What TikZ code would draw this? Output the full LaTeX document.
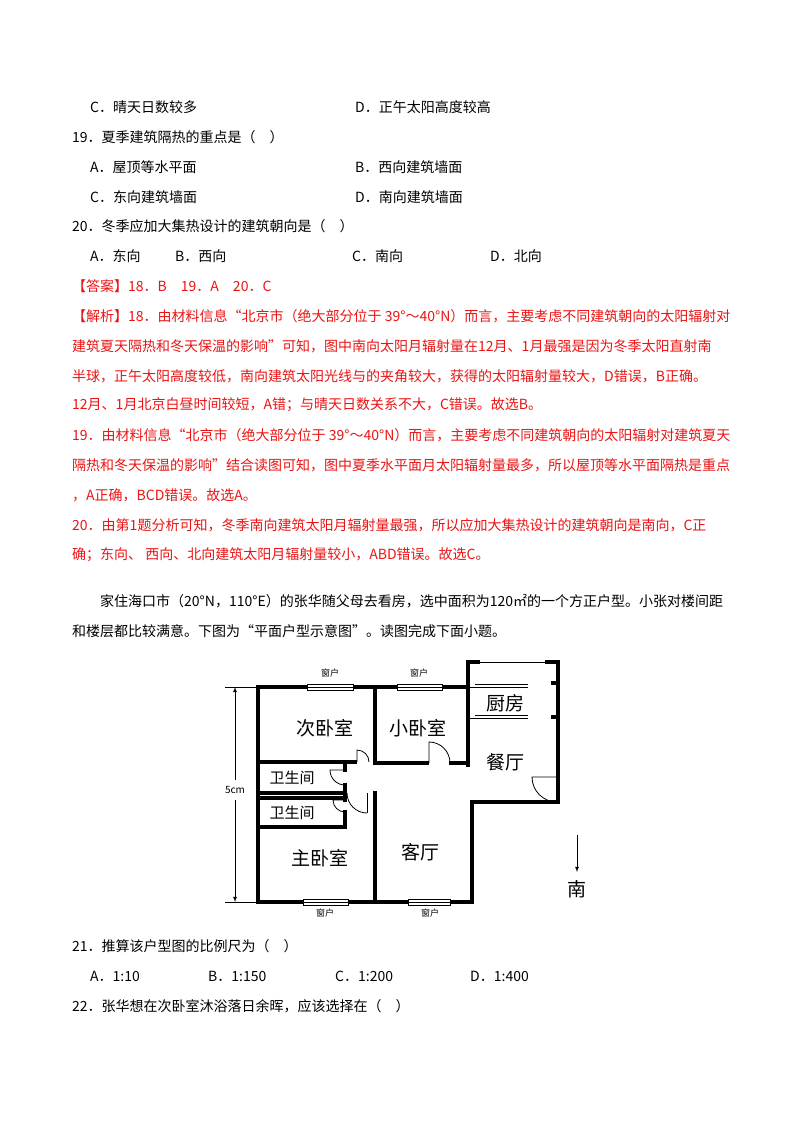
\documentclass[tikz,border=0pt]{standalone}
\usepackage{fontspec}
\setmainfont{Noto Sans CJK SC}
\definecolor{ans}{RGB}{235,20,20}
\begin{document}
\begin{tikzpicture}[x=1pt,y=-1pt,
  t/.style={anchor=west,inner sep=0,font=\fontsize{14}{15}\selectfont},
  r/.style={t,text=ans},
  wall/.style={line width=3.2pt,line cap=rect},
  thin/.style={line width=0.8pt},
  room/.style={font=\fontsize{19}{20}\selectfont,inner sep=0},
  win/.style={font=\fontsize{9}{10}\selectfont,inner sep=0}]
\useasboundingbox[fill=white] (0,0) rectangle (800,1132);
\node[t] (l1a) at (90,107) {C．晴天日数较多};
\node[t] (l1b) at (355,107) {D．正午太阳高度较高};
\node[t] (l2) at (72,137) {19．夏季建筑隔热的重点是（\quad）};
\node[t] (l3a) at (90,167) {A．屋顶等水平面};
\node[t] (l3b) at (355,167) {B．西向建筑墙面};
\node[t] (l4a) at (90,197) {C．东向建筑墙面};
\node[t] (l4b) at (355,197) {D．南向建筑墙面};
\node[t] (l5) at (72,226) {20．冬季应加大集热设计的建筑朝向是（\quad）};
\node[t] (l6a) at (90,256) {A．东向};
\node[t] (l6b) at (175,256) {B．西向};
\node[t] (l6c) at (352,256) {C．南向};
\node[t] (l6d) at (490,256) {D．北向};
\node[r] (a0) at (72,286) {【答案】18．B\quad 19．A\quad 20．C};
\node[r] (a1) at (72,316) {【解析】18．由材料信息“北京市（绝大部分位于 39°～40°N）而言，主要考虑不同建筑朝向的太阳辐射对};
\node[r] (a2) at (72,346) {建筑夏天隔热和冬天保温的影响”可知，图中南向太阳月辐射量在12月、1月最强是因为冬季太阳直射南};
\node[r] (a3) at (72,376) {半球，正午太阳高度较低，南向建筑太阳光线与的夹角较大，获得的太阳辐射量较大，D错误，B正确。};
\node[r] (a4) at (72,405) {12月、1月北京白昼时间较短，A错；与晴天日数关系不大，C错误。故选B。};
\node[r] (a5) at (72,435) {19．由材料信息“北京市（绝大部分位于 39°～40°N）而言，主要考虑不同建筑朝向的太阳辐射对建筑夏天};
\node[r] (a6) at (72,465) {隔热和冬天保温的影响”结合读图可知，图中夏季水平面月太阳辐射量最多，所以屋顶等水平面隔热是重点};
\node[r] (a7) at (72,495) {，A正确，BCD错误。故选A。};
\node[r] (a8) at (72,525) {20．由第1题分析可知，冬季南向建筑太阳月辐射量最强，所以应加大集热设计的建筑朝向是南向，C正};
\node[r] (a9) at (72,555) {确；东向、\ 西向、北向建筑太阳月辐射量较小，ABD错误。故选C。};
\node[t] (p1) at (100,601) {家住海口市（20°N，110°E）的张华随父母去看房，选中面积为120㎡的一个方正户型。小张对楼间距};
\node[t] (p2) at (72,631) {和楼层都比较满意。下图为“平面户型示意图”。读图完成下面小题。};
\draw[wall] (258,687) -- (468,687);
\draw[wall] (258,687) -- (258,902) -- (472,902) -- (472,802) -- (558,802) -- (558,662) -- (468,662) -- (468,765);
\draw[wall] (375,687) -- (375,763);
\draw[wall] (258,762) -- (355,762);
\draw[wall] (375,763) -- (427,763);
\draw[wall] (451,763) -- (468,763);
\draw[wall] (258,793) -- (345,793);
\draw[wall] (258,798) -- (345,798);
\draw[wall] (258,827) -- (345,827);
\draw[wall] (345,762) -- (345,770);
\draw[wall] (345,785) -- (345,800);
\draw[wall] (345,812) -- (345,827);
\draw[wall] (375,793) -- (375,902);
\foreach \a/\b in {307/353,397/442} {
  \fill[white] (\a,684) rectangle (\b,690);
  \draw[thin] (\a,684) rectangle (\b,690); \draw[thin] (\a,687)--(\b,687);}
\foreach \a/\b in {303/348,408/450} {
  \fill[white] (\a,899) rectangle (\b,905);
  \draw[thin] (\a,899) rectangle (\b,905); \draw[thin] (\a,902)--(\b,902);}
\node[win] (w1) at (330,673) {窗户};
\node[win] (w2) at (419,673) {窗户};
\node[win] (w3) at (325,913) {窗户};
\node[win] (w4) at (430,913) {窗户};
\fill[white] (480,659) rectangle (545,665);
\draw[thin] (480,662)--(545,662);
\draw[thin] (468,687)--(528,687); \draw[thin] (475,684)--(528,684);
\draw[thin] (468,718)--(528,718); \draw[thin] (475,715)--(528,715);
\draw[wall] (553,683)--(558,683); \draw[wall] (553,717)--(558,717);
\draw[thin] (357,762) -- (357,750) arc (-90:0:12);
\draw[thin] (429,763) -- (429,742) arc (-90:0:21);
\draw[thin] (345,770) -- (330,770) arc (180:90:15);
\draw[thin] (345,800) -- (333,800) arc (180:90:12);
\draw[thin] (367,793) -- (367,813);
\draw[thin] (347,793) arc (180:90:20);
\draw[thin] (558,777) -- (532,777) arc (180:90:25);
\node[room] (r1) at (325,728) {次卧室};
\node[room] (r2) at (418,728) {小卧室};
\node[room] (r3) at (505,703) {厨房};
\node[room] (r4) at (505,762) {餐厅};
\node[room,font=\fontsize{15}{16}\selectfont] (r5) at (292,778) {卫生间};
\node[room,font=\fontsize{15}{16}\selectfont] (r6) at (292,813) {卫生间};
\node[room] (r7) at (320,858) {主卧室};
\node[room] (r8) at (420,852) {客厅};
\coordinate (d1) at (235,687); \coordinate (d2) at (235,902);
\draw[thin] (225,687)--(256,687); \draw[thin] (225,902)--(256,902);
\draw[thin,-latex] (235,780)--(d1); \draw[thin,-latex] (235,800)--(d2);
\node[win,fill=white,font=\fontsize{10}{10}\selectfont] (dim) at (235,790) {5cm};
\coordinate (s1) at (577,835); \coordinate (s2) at (577,872);
\draw[thin,-latex] (s1)--(s2);
\node[room] (south) at (577,889) {南};
\node[t] (q21) at (72,946) {21．推算该户型图的比例尺为（\quad）};
\node[t] (q21a) at (90,976) {A．1:10};
\node[t] (q21b) at (208,976) {B．1:150};
\node[t] (q21c) at (335,976) {C．1:200};
\node[t] (q21d) at (470,976) {D．1:400};
\node[t] (q22) at (72,1006) {22．张华想在次卧室沐浴落日余晖，应该选择在（\quad）};
\end{tikzpicture}
\end{document}
